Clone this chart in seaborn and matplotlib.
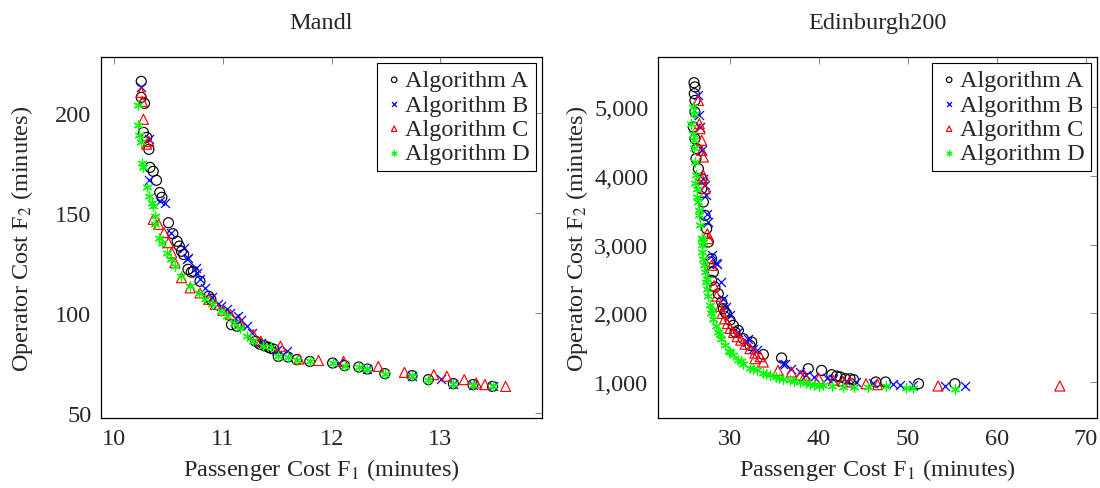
import numpy as np
import pandas as pd
import matplotlib
matplotlib.use("Agg")
import matplotlib.pyplot as plt
from matplotlib.ticker import FuncFormatter, FixedLocator
import seaborn as sns

# ---------------- Data: Mandl ----------------
mandl_A_x = [10.25,10.25,10.28,10.27,10.30,10.32,10.33,10.36,10.39,10.42,
             10.44,10.50,10.54,10.58,10.60,10.62,10.64,10.68,10.71,10.73,
             10.79,10.87,10.89,11.08,11.13,11.30,11.34,11.38,11.42,11.44,
             11.47,11.51,11.60,11.68,11.80,12.01,12.12,12.25,12.33,12.49,
             12.74,12.89,13.12,13.30,13.48]
mandl_A_y = [216,208,205,190.5,188,182,173,171,166.5,160.4,
             158,145.3,139.8,136,133.6,131,129.4,122,120.6,121,
             116,108.5,107,94.3,93.5,86,84.5,83.8,83,82.5,
             82,78.4,78.1,76.8,75.9,75.1,73.8,73.1,72.1,69.8,
             68.8,66.8,64.8,64.3,63.4]

mandl_B_x = [10.25,10.32,10.32,10.42,10.47,10.52,10.64,10.67,10.68,10.75,
             10.76,10.79,10.84,10.90,10.96,10.98,11.04,11.07,11.11,11.14,
             11.17,11.22,11.27,11.35,11.50,11.59,12.07,12.33,12.74,13.01,
             13.12,13.30,13.48]
mandl_B_y = [213,187,166.7,156,155.4,140.3,132.8,127,127.8,122.8,
             120.3,117,112.7,108,104.4,103.5,101.9,100.2,97.7,98.5,
             96.8,93.5,90.2,85,81.5,81,75.1,72.1,68.8,67,
             64.8,64.3,63.4]

mandl_C_x = [10.25,10.26,10.27,10.30,10.32,10.36,10.41,10.46,10.50,10.53,
             10.56,10.62,10.70,10.79,10.87,10.93,11.00,11.07,11.16,11.28,
             11.35,11.53,11.70,11.88,12.11,12.43,12.67,12.94,13.06,13.22,
             13.33,13.41,13.60]
mandl_C_y = [210.5,206,197,184.6,186,147,144.5,140.3,135.3,130.3,
             125.3,117.8,112.7,110.2,106.9,104.4,101.5,99.4,95.2,89.3,
             86,83.5,77.1,76.4,75.9,73.4,70.4,69.3,68.5,66.8,
             65.1,64.3,63.4]

mandl_D_x = [10.22,10.22,10.23,10.25,10.26,10.27,10.30,10.32,10.35,10.36,
             10.38,10.38,10.41,10.44,10.49,10.52,10.56,10.62,10.70,10.78,
             10.84,10.90,10.98,11.04,11.10,11.16,11.22,11.28,11.37,11.44,
             11.51,11.60,11.68,11.80,12.01,12.12,12.25,12.33,12.49,12.74,
             12.89,13.12,13.30,13.48]
mandl_D_y = [204,194,189,185.5,175.4,173,163,158.7,155,153.7,
             148.7,144.5,137.8,135.3,130.3,127,123.6,118.6,113.5,110.2,
             106.9,104.4,101,98.5,95.2,92.7,88.5,86,83.5,83,
             78.4,78.1,76.8,75.9,75.1,73.8,73.1,72.1,69.8,68.8,
             66.8,64.8,64.3,63.4]

# ---------------- Data: Edinburgh200 ----------------
edi_A_x = [25.95,26.06,25.98,26.06,26.06,25.87,26.06,26.25,26.17,26.44,
           26.81,26.81,27.00,27.19,27.37,27.56,27.75,27.93,28.12,27.93,
           28.30,28.68,29.06,29.25,29.44,29.60,30.00,30.37,30.56,30.94,
           31.50,32.25,32.44,33.75,35.80,38.80,40.30,41.45,42.00,42.40,
           42.96,43.50,43.90,46.40,47.50,51.20,55.30]
edi_A_y = [5358,5296,5198,5100,4931,4713,4542,4397,4251,4106,
           3960,3815,3621,3426,3232,3038,2747,2795,2601,2480,
           2383,2286,2165,2067,2019,1994,1900,1824,1728,1751,
           1630,1533,1582,1400,1350,1194,1169,1106,1087,1073,
           1048,1048,1034,1000,1000,975,975]

edi_B_x = [26.44,26.55,26.63,26.81,27.00,27.19,27.30,27.37,27.56,27.93,
           28.43,28.50,28.99,29.25,29.60,30.00,30.94,31.90,32.06,32.60,
           33.00,36.00,36.20,36.90,37.90,38.60,39.40,40.90,41.60,43.10,
           44.20,46.10,48.30,49.10,50.60,54.20,56.40]
edi_B_y = [5173,4882,4713,4372,3960,3862,3717,3450,3330,2843,
           2737,2722,2456,2213,2092,1970,1728,1582,1630,1485,
           1460,1267,1267,1194,1146,1106,1073,1058,1048,1009,
           1000,990,966,961,961,942,942]

edi_C_x = [26.44,26.55,26.63,26.81,26.81,27.00,27.00,26.81,27.19,27.45,
           27.56,27.93,28.20,28.50,28.90,29.10,29.40,29.70,30.00,30.40,
           30.80,31.20,31.70,32.25,32.80,33.40,32.80,33.75,35.40,36.90,
           37.90,38.40,40.00,41.60,42.70,43.50,45.30,46.60,53.40,67.10]
edi_C_y = [5100,4761,4688,4518,4372,4276,4008,3960,3815,3159,
           3087,2698,2400,2250,2100,2000,1920,1850,1780,1720,
           1660,1610,1550,1485,1420,1369,1339,1291,1169,1146,
           1097,1090,1048,1024,1009,1000,975,961,942,942]

edi_D_x = [25.80,25.66,25.87,25.95,26.06,26.17,26.25,26.44,26.55,26.63,
           26.81,26.81,27.00,27.00,27.19,27.37,27.75,28.12,28.68,29.44,
           30.37,31.50,33.00,34.50,36.00,37.90,39.40,42.70,44.00,45.50,
           47.60,49.80,50.60,55.30,26.00,25.90,26.10,26.30,26.50,26.90,
           27.10,27.30,27.50,27.90,28.40,29.00,29.90,30.90,32.20,33.70,
           35.20,36.80,38.60,40.50,41.50,26.90,27.40,28.00,28.90,30.00,
           31.20,32.60,34.00,35.50,37.20,39.00,40.00]
edi_D_y = [5004,4761,4615,4518,4203,4008,3815,3621,3426,3280,
           3087,2989,3038,2795,2601,2359,2116,1922,1728,1533,
           1387,1267,1169,1097,1048,1000,951,927,927,927,
           942,913,913,903,4900,4400,3900,3700,3500,2900,
           2700,2450,2250,2000,1820,1620,1450,1320,1210,1130,
           1070,1030,980,960,945,3100,2500,2050,1700,1430,
           1300,1190,1110,1060,1020,970,940]

algorithms = ["Algorithm A", "Algorithm B", "Algorithm C", "Algorithm D"]
titles = ["Mandl", "Edinburgh200"]
mandl_xticks = [10, 11, 12, 13]
mandl_yticks = [50, 100, 150, 200]
edi_xticks = [30, 40, 50, 60, 70]
edi_yticks = [1000, 2000, 3000, 4000, 5000]

# ---------------- Style ----------------
sns.set_theme(style="white")
plt.rcParams["font.family"] = ["Liberation Serif", "DejaVu Serif"]
plt.rcParams["mathtext.fontset"] = "stix"

styles = {
    "Algorithm A": dict(marker="o", color="black"),
    "Algorithm B": dict(marker="x", color="blue"),
    "Algorithm C": dict(marker="^", color="red"),
    "Algorithm D": dict(marker=(6, 2, 0), color="#00ff00"),
}

FS = 17.5

fig = plt.figure(figsize=(11, 4.89), dpi=100)
ax1 = fig.add_axes([101/1100, 1 - 419/489, 441/1100, 361/489])
ax2 = fig.add_axes([658/1100, 1 - 419/489, 439/1100, 361/489])

def draw(ax, data, title, xticks, yticks, xlim, ylim, ylabelpad, fmt=None):
    for name, (xs, ys) in zip(algorithms, data):
        df = pd.DataFrame({"x": xs, "y": ys})
        st = styles[name]
        if name in ("Algorithm A", "Algorithm C"):
            sns.scatterplot(data=df, x="x", y="y", ax=ax, marker=st["marker"],
                            facecolors="none", edgecolor=st["color"],
                            s=52, linewidth=0.85, label=name)
        else:
            sns.scatterplot(data=df, x="x", y="y", ax=ax, marker=st["marker"],
                            color=st["color"], s=42, linewidth=0.9, label=name)
    ax.set_xlim(*xlim)
    ax.set_ylim(*ylim)
    ax.xaxis.set_major_locator(FixedLocator(xticks))
    ax.yaxis.set_major_locator(FixedLocator(yticks))
    if fmt is not None:
        ax.yaxis.set_major_formatter(FuncFormatter(fmt))
    ax.tick_params(direction="in", top=True, right=True, length=5, width=0.6,
                   color="0.45", labelsize=FS, pad=7)
    for sp in ax.spines.values():
        sp.set_color("black")
        sp.set_linewidth(0.9)
    ax.set_title(title, fontsize=FS, pad=21)
    ax.set_xlabel(r"Passenger Cost F$_1$ (minutes)", fontsize=FS, labelpad=5)
    ax.set_ylabel(r"Operator Cost F$_2$ (minutes)", fontsize=FS, labelpad=ylabelpad)
    leg = ax.legend(loc="upper right", fontsize=FS, frameon=True, fancybox=False,
                    edgecolor="black", framealpha=1, borderaxespad=0.25,
                    handletextpad=0.0, handlelength=0.9, borderpad=0.25,
                    labelspacing=0.1, markerscale=0.55)
    leg.get_frame().set_linewidth(0.8)

draw(ax1, [(mandl_A_x, mandl_A_y), (mandl_B_x, mandl_B_y),
           (mandl_C_x, mandl_C_y), (mandl_D_x, mandl_D_y)],
     titles[0], mandl_xticks, mandl_yticks, (9.88, 13.935), (47.6, 228.2), 14)
draw(ax2, [(edi_A_x, edi_A_y), (edi_B_x, edi_B_y),
           (edi_C_x, edi_C_y), (edi_D_x, edi_D_y)],
     titles[1], edi_xticks, edi_yticks, (21.9, 71.28), (476, 5732), 3,
     fmt=lambda v, p: f"{int(v):,}")

fig.savefig("out.png", dpi=100)
